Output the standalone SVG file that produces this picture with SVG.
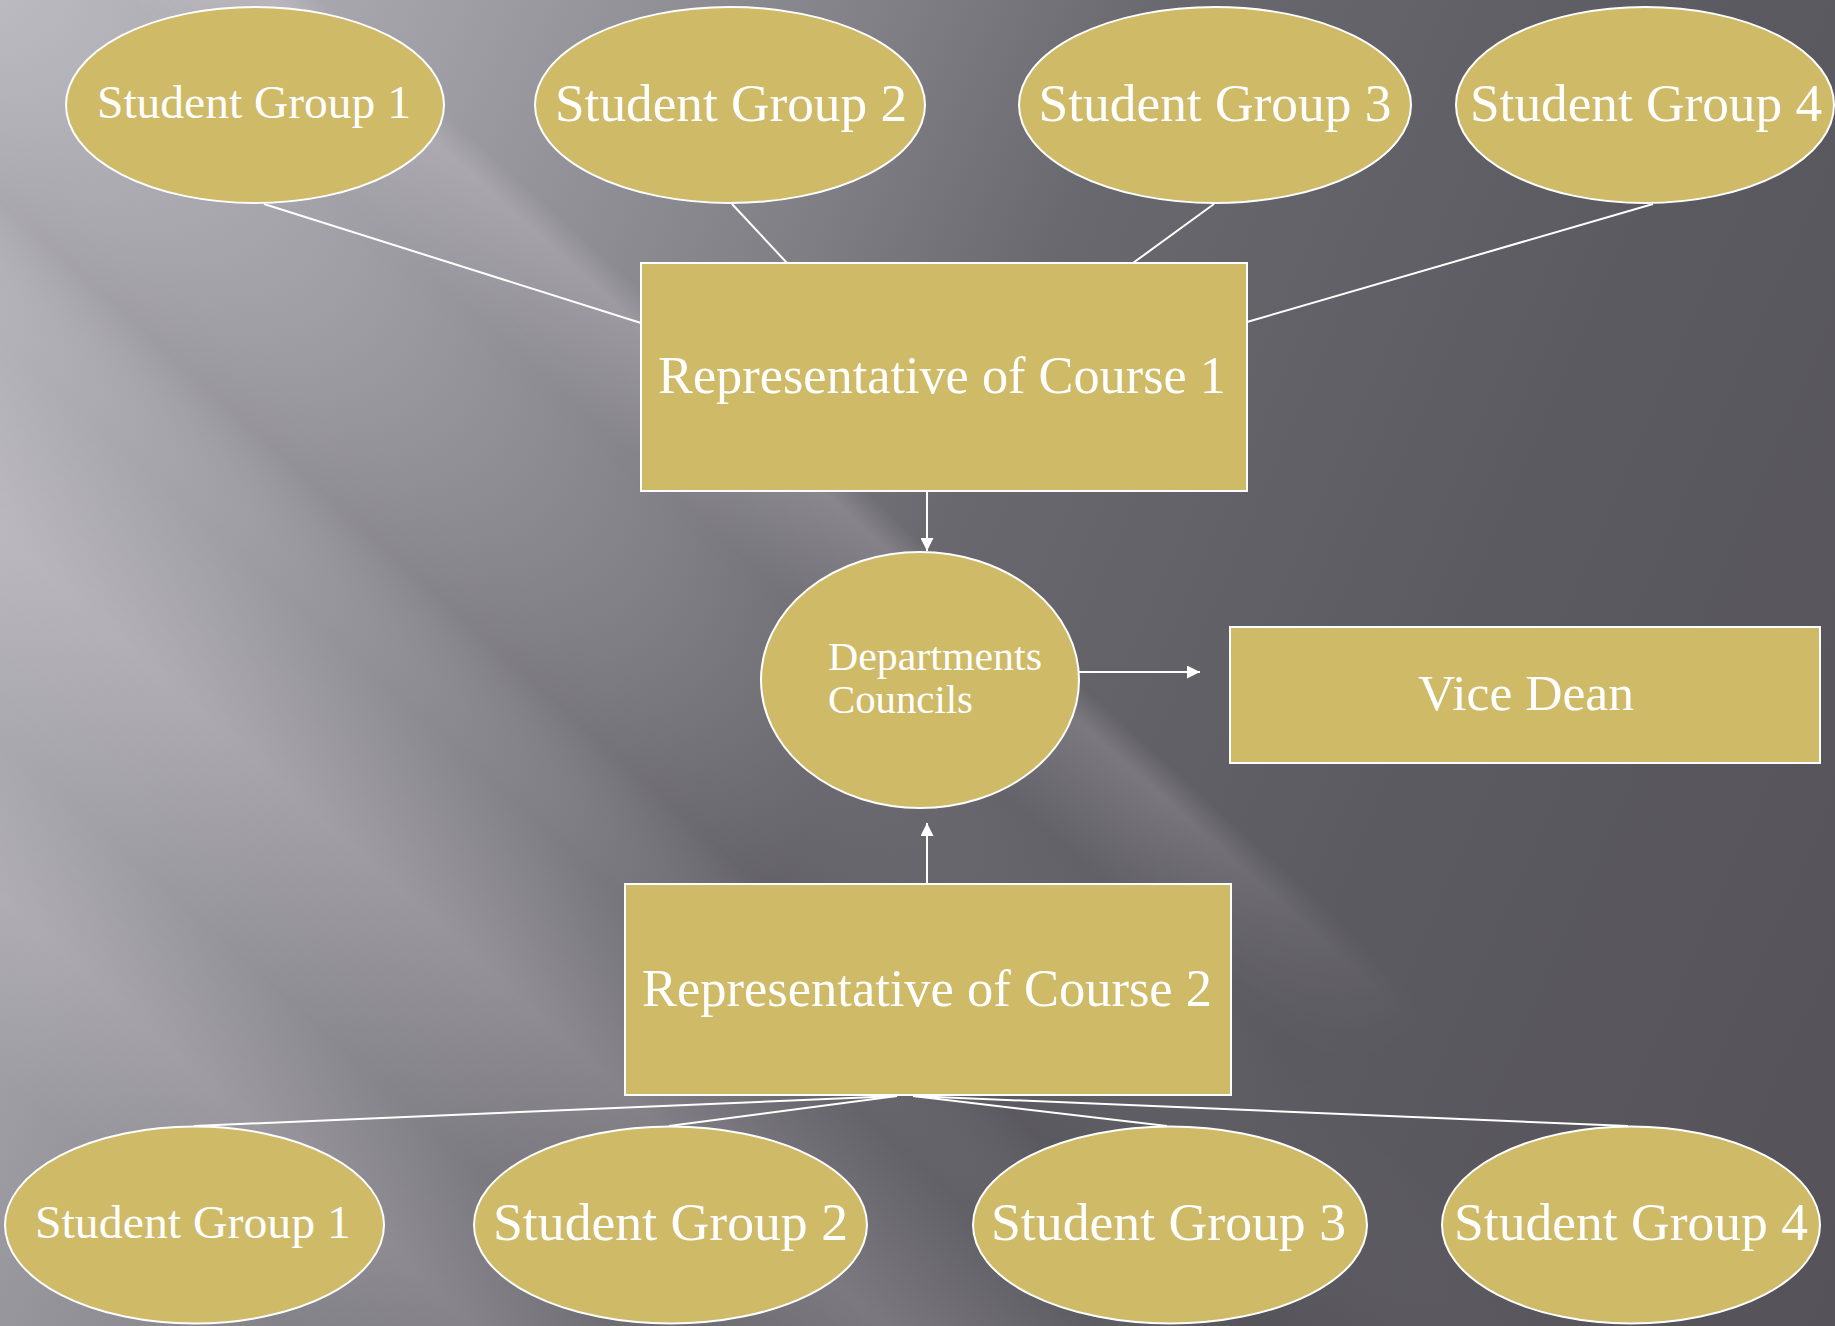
<svg xmlns="http://www.w3.org/2000/svg" width="1835" height="1326" viewBox="0 0 1835 1326">
<defs>
<linearGradient id="bg" x1="0" y1="0" x2="2017" y2="879" gradientUnits="userSpaceOnUse">
<stop offset="0" stop-color="#bcbac1"/>
<stop offset="0.195" stop-color="#a09ea5"/>
<stop offset="0.38" stop-color="#807e85"/>
<stop offset="0.4875" stop-color="#6a686f"/>
<stop offset="0.731" stop-color="#5c5a61"/>
<stop offset="1" stop-color="#555359"/>
</linearGradient>
<linearGradient id="bands" x1="-669" y1="743" x2="836" y2="-929" gradientUnits="userSpaceOnUse">
<stop offset="0" stop-color="#ffffff" stop-opacity="0"/>
<stop offset="0.089" stop-color="#ffffff" stop-opacity="0"/>
<stop offset="0.148" stop-color="#ffffff" stop-opacity="0.12"/>
<stop offset="0.2" stop-color="#ffffff" stop-opacity="0.02"/>
<stop offset="0.269" stop-color="#ffffff" stop-opacity="0.15"/>
<stop offset="0.333" stop-color="#ffffff" stop-opacity="0"/>
<stop offset="0.378" stop-color="#000000" stop-opacity="0.07"/>
<stop offset="0.48" stop-color="#ffffff" stop-opacity="0"/>
<stop offset="1" stop-color="#ffffff" stop-opacity="0"/>
</linearGradient>
<linearGradient id="band2" x1="-669" y1="743" x2="836" y2="-929" gradientUnits="userSpaceOnUse">
<stop offset="0.48" stop-color="#ffffff" stop-opacity="0"/>
<stop offset="0.527" stop-color="#ffffff" stop-opacity="0.15"/>
<stop offset="0.54" stop-color="#ffffff" stop-opacity="0"/>
</linearGradient>
<linearGradient id="fade" x1="1040" y1="937" x2="1300" y2="1171" gradientUnits="userSpaceOnUse">
<stop offset="0" stop-color="#ffffff"/>
<stop offset="1" stop-color="#000000"/>
</linearGradient>
<mask id="band2mask" maskUnits="userSpaceOnUse" x="0" y="0" width="1835" height="1326">
<rect x="0" y="0" width="1835" height="1326" fill="url(#fade)"/>
</mask>
<marker id="arr" viewBox="0 0 10 10" refX="10" refY="5" markerWidth="18" markerHeight="13" markerUnits="userSpaceOnUse" orient="auto">
<path d="M0,0 L10,5 L0,10 z" fill="#ffffff"/>
</marker>
<style>
.shape{fill:#cfba68;stroke:#ffffff;stroke-width:2}
.lbl{font-family:"Liberation Serif",serif;fill:#ffffff;text-anchor:middle}
.lblL{font-family:"Liberation Serif",serif;fill:#ffffff}
.conn{stroke:#ffffff;stroke-width:2;fill:none}
</style>
</defs>
<rect x="0" y="0" width="1835" height="1326" fill="url(#bg)"/>
<rect x="0" y="0" width="1835" height="1326" fill="url(#bands)"/>
<rect x="0" y="0" width="1835" height="1326" fill="url(#band2)" mask="url(#band2mask)"/>
<g id="connectors">
<line class="conn" x1="264" y1="204" x2="641" y2="323"/>
<line class="conn" x1="732" y1="204" x2="787" y2="263"/>
<line class="conn" x1="1214" y1="204" x2="1133" y2="263"/>
<line class="conn" x1="1653" y1="204" x2="1247" y2="322"/>
<line class="conn" x1="927" y1="491" x2="927" y2="551" marker-end="url(#arr)"/>
<line class="conn" x1="1079" y1="672" x2="1200" y2="672" marker-end="url(#arr)"/>
<line class="conn" x1="927" y1="884" x2="927" y2="823" marker-end="url(#arr)"/>
<line class="conn" x1="897" y1="1096" x2="194" y2="1126"/>
<line class="conn" x1="897" y1="1096" x2="669" y2="1126"/>
<line class="conn" x1="913" y1="1096" x2="1167" y2="1126"/>
<line class="conn" x1="913" y1="1096" x2="1628" y2="1126"/>
</g>
<g id="sg1-top">
<ellipse class="shape" cx="255" cy="105" rx="189" ry="98"/>
<text class="lbl" x="254" y="118" font-size="47" textLength="314" lengthAdjust="spacingAndGlyphs">Student Group 1</text>
</g>
<g id="sg2-top">
<ellipse class="shape" cx="730" cy="105" rx="195" ry="98"/>
<text class="lbl" x="731" y="121" font-size="52" textLength="352" lengthAdjust="spacingAndGlyphs">Student Group 2</text>
</g>
<g id="sg3-top">
<ellipse class="shape" cx="1215" cy="105" rx="196" ry="98"/>
<text class="lbl" x="1215" y="121" font-size="52" textLength="353" lengthAdjust="spacingAndGlyphs">Student Group 3</text>
</g>
<g id="sg4-top">
<ellipse class="shape" cx="1645" cy="105" rx="189" ry="98"/>
<text class="lbl" x="1646" y="121" font-size="52" textLength="352" lengthAdjust="spacingAndGlyphs">Student Group 4</text>
</g>
<g id="rep1">
<rect class="shape" x="641" y="263" width="606" height="228"/>
<text class="lbl" x="942" y="393" font-size="52" textLength="568" lengthAdjust="spacingAndGlyphs">Representative of Course 1</text>
</g>
<g id="dept">
<ellipse class="shape" cx="920" cy="680" rx="159" ry="128"/>
<text class="lblL" x="828" y="670" font-size="40" textLength="214" lengthAdjust="spacingAndGlyphs">Departments</text>
<text class="lblL" x="828" y="713" font-size="40" textLength="145" lengthAdjust="spacingAndGlyphs">Councils</text>
</g>
<g id="vice-dean">
<rect class="shape" x="1230" y="627" width="590" height="136"/>
<text class="lbl" x="1526" y="710" font-size="50" textLength="216" lengthAdjust="spacingAndGlyphs">Vice Dean</text>
</g>
<g id="rep2">
<rect class="shape" x="625" y="884" width="606" height="211"/>
<text class="lbl" x="927" y="1006" font-size="52" textLength="570" lengthAdjust="spacingAndGlyphs">Representative of Course 2</text>
</g>
<g id="sg1-bottom">
<ellipse class="shape" cx="194.5" cy="1225" rx="189.5" ry="98.5"/>
<text class="lbl" x="193" y="1238" font-size="47" textLength="316" lengthAdjust="spacingAndGlyphs">Student Group 1</text>
</g>
<g id="sg2-bottom">
<ellipse class="shape" cx="670.5" cy="1225" rx="196.5" ry="98.5"/>
<text class="lbl" x="670.5" y="1240" font-size="52" textLength="355" lengthAdjust="spacingAndGlyphs">Student Group 2</text>
</g>
<g id="sg3-bottom">
<ellipse class="shape" cx="1170" cy="1225" rx="197" ry="98.5"/>
<text class="lbl" x="1168.5" y="1240" font-size="52" textLength="355" lengthAdjust="spacingAndGlyphs">Student Group 3</text>
</g>
<g id="sg4-bottom">
<ellipse class="shape" cx="1631" cy="1225" rx="189" ry="98.5"/>
<text class="lbl" x="1631" y="1240" font-size="52" textLength="354" lengthAdjust="spacingAndGlyphs">Student Group 4</text>
</g>
</svg>
